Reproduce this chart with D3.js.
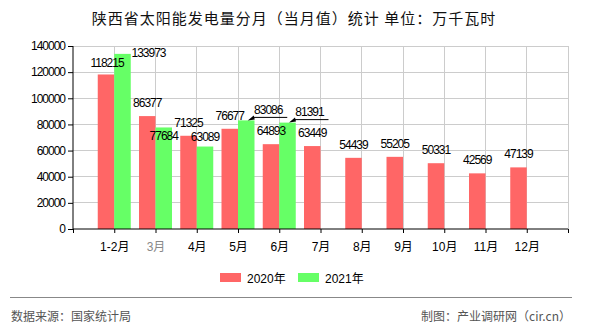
<!DOCTYPE html>
<html>
<head>
<meta charset="utf-8">
<script src="https://cdn.jsdelivr.net/npm/d3@7"></script>
<style>
html,body{margin:0;padding:0;background:#fff;}
svg{display:block;}
text{font-family:"Liberation Sans","Noto Sans CJK SC",sans-serif;}
</style>
</head>
<body>
<svg id="chart" width="590" height="330"></svg>
<script>
const title = "陕西省太阳能发电量分月（当月值）统计 单位：万千瓦时";
const categories = ["1-2月","3月","4月","5月","6月","7月","8月","9月","10月","11月","12月"];
const series2020 = [118215,86377,71325,76677,64893,63449,54439,55205,50331,42569,47139];
const series2021 = [133973,77684,63089,83086,81391,null,null,null,null,null,null];
const seriesNames = ["2020年","2021年"];
const yTicks = [0,20000,40000,60000,80000,100000,120000,140000];
const sourceText = "数据来源：国家统计局";
const creditText = "制图：产业调研网（cir.cn）";

const colors = ["#ff6666","#66ff66"];
const svg = d3.select("#chart");
const L = 73, R = 568, T = 46, B = 229;

const x = d3.scaleLinear().domain([-1, categories.length]).range([L, R]);
const step = x(1) - x(0);
const bw = step * 0.4;
const y = d3.scaleLinear().domain([0, 140000]).range([B, T]);

// title
svg.append("text").attr("x", 294).attr("y", 24).attr("text-anchor","middle")
  .style("font-family","'Noto Sans CJK SC',sans-serif").style("font-size","15px")
  .style("letter-spacing","1px").attr("fill","#111").text(title);

// grid
const g = svg.append("g");
g.selectAll("line.hg").data(yTicks.slice(1)).join("line")
  .attr("x1", L).attr("x2", R).attr("y1", d => y(d)).attr("y2", d => y(d))
  .attr("stroke","#cccccc").attr("stroke-width",1).attr("shape-rendering","crispEdges");
const vIdx = d3.range(0, categories.length + 1);
g.selectAll("line.vg").data(vIdx).join("line")
  .attr("x1", d => x(d)).attr("x2", d => x(d)).attr("y1", T).attr("y2", B)
  .attr("stroke","#cccccc").attr("stroke-width",1).attr("shape-rendering","crispEdges");

// bars
const bars = svg.append("g");
bars.selectAll("rect.s0").data(series2020).join("rect")
  .attr("x", (d,i) => x(i) - bw).attr("width", bw)
  .attr("y", d => y(d)).attr("height", d => B - y(d)).attr("fill", colors[0]);
bars.selectAll("rect.s1").data(series2021.map((v,i)=>({v,i})).filter(d=>d.v!=null)).join("rect")
  .attr("x", d => x(d.i)).attr("width", bw)
  .attr("y", d => y(d.v)).attr("height", d => B - y(d.v)).attr("fill", colors[1]);

// axes
const yAxis = d3.axisLeft(y).tickValues(yTicks).tickSize(5).tickPadding(3).tickFormat(d3.format("d"));
const ya = svg.append("g").attr("transform", `translate(${L},0)`).call(yAxis);
ya.selectAll("text").style("font-size","12px").style("letter-spacing","-1px").attr("fill","#000");
ya.selectAll("line,path").attr("stroke","#000");
ya.select(".domain").attr("d", `M0,${T}V${B}`);

const xAxis = d3.axisBottom(x).tickValues(d3.range(-1, categories.length+1)).tickSize(4).tickPadding(6)
  .tickFormat(d => (d >= 0 && d < categories.length) ? categories[d] : "");
const xa = svg.append("g").attr("transform", `translate(0,${B})`).call(xAxis);
xa.select(".domain").attr("d", `M${L},0H${R}`);
xa.selectAll("line,path").attr("stroke","#000");
xa.selectAll("text").style("font-size","12px").attr("fill", (d) => d === 1 ? "#888" : "#000").attr("dy","1em");

// value labels
const lab = svg.append("g").style("font-size","12px").style("letter-spacing","-1px");
const off0 = {0:[1,-7.5]};
const off1 = {0:[26,3], 1:[0,12.5], 2:[0,-5.5], 3:[22,-6.4], 4:[22,-6.6]};
series2020.forEach((v,i) => {
  const o = off0[i] || [0,-9];
  lab.append("text").attr("x", x(i) - bw/2 + o[0]).attr("y", y(v) + o[1])
    .attr("text-anchor","middle").attr("fill","#000").text(v);
});
series2021.forEach((v,i) => {
  if (v == null) return;
  const o = off1[i] || [0,-9];
  const cx = x(i) + bw/2 + o[0];
  lab.append("text").attr("x", cx).attr("y", y(v) + o[1])
    .attr("text-anchor","middle").attr("fill","#000").text(v);
  if (i === 3 || i === 4) {
    const tx = x(i) + bw/2 + 1.5, ty = y(v);
    const ly = ty - 3;
    lab.append("path").attr("d", `M${tx},${ty}L${tx+6},${ty-5}L${tx+7},${ty-1}Z`).attr("fill","#000");
    lab.append("line").attr("x1", tx+5).attr("x2", cx + 19).attr("y1", ly).attr("y2", ly)
      .attr("stroke","#000").attr("stroke-width",1);
  }
});

// legend
const leg = svg.append("g");
[[220,247],[298,325]].forEach((p,k) => {
  leg.append("rect").attr("x", p[0]).attr("y", 273).attr("width", 21).attr("height", 9).attr("fill", colors[k]);
  leg.append("text").attr("x", p[1]).attr("y", 283).style("font-size","12px").attr("fill","#000").text(seriesNames[k]);
});

// footer
svg.append("line").attr("x1",10).attr("x2",572).attr("y1",297.5).attr("y2",297.5).attr("stroke","#888").attr("stroke-width",1);
svg.append("text").attr("x",11).attr("y",321).style("font-family","'Noto Sans CJK SC',sans-serif").style("font-size","12px").attr("fill","#555").text(sourceText);
svg.append("text").attr("x",571).attr("y",321).attr("text-anchor","end").style("font-family","'Noto Sans CJK SC',sans-serif").style("font-size","12px").attr("fill","#555").text(creditText);
</script>
</body>
</html>
